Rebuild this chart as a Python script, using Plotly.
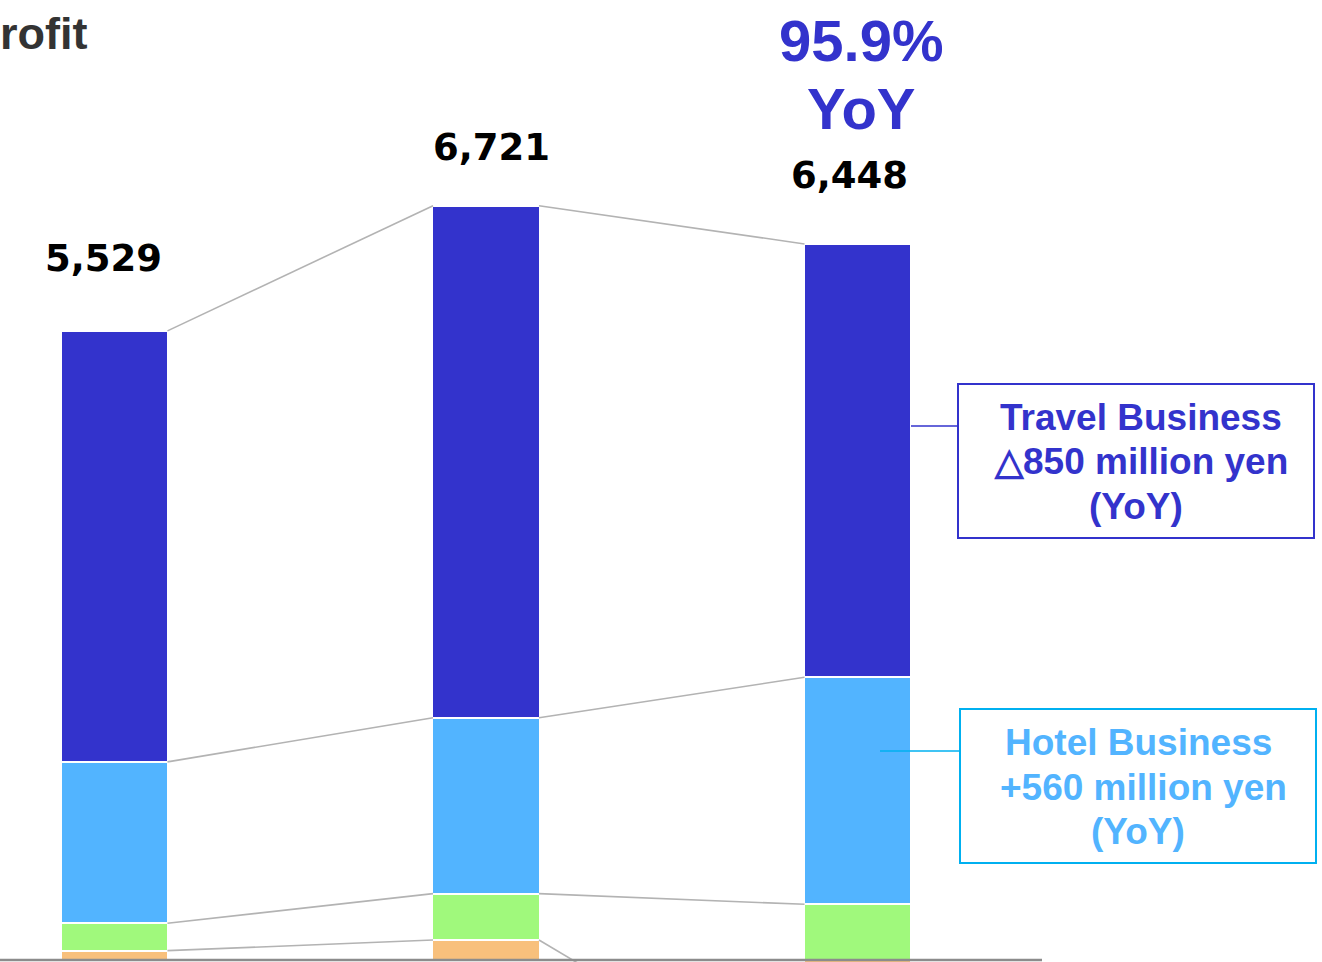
import plotly.graph_objects as go

# ---- data ----
periods = ["Period 1", "Period 2", "Period 3"]
travel = [3831, 4551, 3852]
hotel = [1434, 1564, 2018]
segment_green = [244, 412, 495]
segment_orange = [83, 178, -1227]
totals = [5529, 6721, 6448]
yoy_text = "95.9%"
travel_note = ["Travel Business", "△850 million yen", "(YoY)"]
hotel_note = ["Hotel Business", "+560 million yen", "(YoY)"]
title_fragment = "rofit"

# ---- styling ----
W, H = 1322, 962
C_TRAVEL = "#3333CC"
C_HOTEL = "#52B4FF"
C_GREEN = "#A0F97C"
C_ORANGE = "#F8C07C"
C_CYAN = "#00B0F0"
FONT = "Liberation Sans"
SCALE = 0.1125           # px per unit
BASE_PX = 960
BAR_W = 0.2853
X0_PX, STEP_PX = 114.5, 371.5

def px(x):
    return x / W

def py(y):
    return 1 - y / H

xs = list(range(len(periods)))

fig = go.Figure()

# connector lines (drawn first so they sit behind the bars)
levels = []
for i in xs:
    base = max(segment_orange[i], 0)
    o_end = segment_orange[i]
    g_top = base + segment_green[i]
    h_top = g_top + hotel[i]
    t_top = h_top + travel[i]
    levels.append([o_end, g_top, h_top, t_top])

for k in range(4):
    for i in xs[:-1]:
        fig.add_trace(go.Scatter(
            x=[i + BAR_W / 2, i + 1 - BAR_W / 2],
            y=[levels[i][k], levels[i + 1][k]],
            mode="lines", line=dict(color="#B3B3B3", width=1.6),
            showlegend=False, hoverinfo="skip"))

for name, vals, col in [("Other A", segment_orange, C_ORANGE),
                        ("Other B", segment_green, C_GREEN),
                        ("Hotel Business", hotel, C_HOTEL),
                        ("Travel Business", travel, C_TRAVEL)]:
    fig.add_trace(go.Bar(
        x=xs, y=vals, name=name, width=BAR_W + 2 / STEP_PX,
        marker=dict(color=col, line=dict(color="white", width=2)),
        showlegend=False))

# total labels
label_shift = [72, 58, 68]
label_dx = [-11, 5, -8]
annotations = []
for i in xs:
    annotations.append(dict(
        x=i, y=levels[i][3], xref="x", yref="y",
        text=f"{totals[i]:,}", showarrow=False,
        xanchor="center", yanchor="middle",
        xshift=label_dx[i], yshift=label_shift[i],
        font=dict(family="DejaVu Sans", size=37, color="black", weight="bold")))

# YoY headline
annotations.append(dict(x=px(861), y=py(40), xref="paper", yref="paper",
                        text=yoy_text, showarrow=False, xanchor="center", yanchor="middle",
                        font=dict(family=FONT, size=58, color=C_TRAVEL, weight="bold")))
annotations.append(dict(x=px(861), y=py(109), xref="paper", yref="paper",
                        text="YoY", showarrow=False, xanchor="center", yanchor="middle",
                        font=dict(family=FONT, size=58, color=C_TRAVEL, weight="bold")))

# title fragment
annotations.append(dict(x=px(89), y=py(34), xref="paper", yref="paper",
                        text=title_fragment, showarrow=False, xanchor="right", yanchor="middle",
                        font=dict(family=FONT, size=45, color="#333333", weight="bold")))

# note boxes text
for t, xc, yc in zip(travel_note, [1141, 1141, 1136], [417, 461, 507]):
    annotations.append(dict(x=px(xc), y=py(yc), xref="paper", yref="paper",
                            text=t, showarrow=False, xanchor="center", yanchor="middle",
                            font=dict(family=FONT, size=37, color=C_TRAVEL, weight="bold")))
for t, xc, yc in zip(hotel_note, [1138, 1143, 1138], [742, 787, 831]):
    annotations.append(dict(x=px(xc), y=py(yc), xref="paper", yref="paper",
                            text=t, showarrow=False, xanchor="center", yanchor="middle",
                            font=dict(family=FONT, size=37, color=C_HOTEL, weight="bold")))

shapes = [
    # baseline
    dict(type="line", xref="paper", yref="y", x0=0, x1=px(1042), y0=0, y1=0,
         line=dict(color="#8C8C8C", width=2.5)),
    # travel box + connector
    dict(type="rect", xref="paper", yref="paper", x0=px(958), x1=px(1314),
         y0=py(538), y1=py(384), line=dict(color=C_TRAVEL, width=2)),
    dict(type="line", xref="paper", yref="paper", x0=px(911), x1=px(958),
         y0=py(426), y1=py(426), line=dict(color=C_TRAVEL, width=1.5)),
    # hotel box + connector
    dict(type="rect", xref="paper", yref="paper", x0=px(960), x1=px(1316),
         y0=py(863), y1=py(709), line=dict(color=C_CYAN, width=2)),
    dict(type="line", xref="paper", yref="paper", x0=px(880), x1=px(960),
         y0=py(751), y1=py(751), line=dict(color=C_CYAN, width=1.5)),
]

fig.update_layout(
    width=W, height=H,
    margin=dict(l=0, r=0, t=0, b=0),
    paper_bgcolor="white", plot_bgcolor="white",
    barmode="relative", bargap=0,
    xaxis=dict(range=[-X0_PX / STEP_PX, (W - X0_PX) / STEP_PX], visible=False, fixedrange=True),
    yaxis=dict(range=[-(H - BASE_PX) / SCALE, BASE_PX / SCALE], visible=False, fixedrange=True),
    annotations=annotations,
    shapes=shapes,
)

fig.write_html("out.html", config={"displayModeBar": False},
               post_script="document.body.style.margin='0';document.body.style.overflow='hidden';")
